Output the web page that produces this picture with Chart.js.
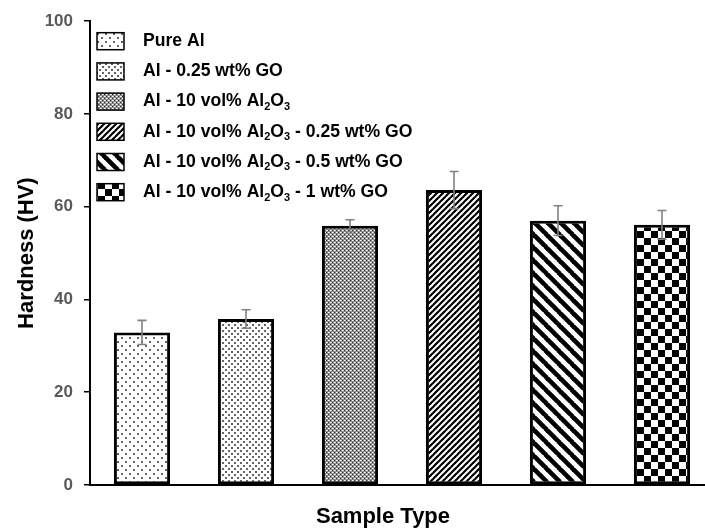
<!DOCTYPE html>
<html>
<head>
<meta charset="utf-8">
<script src="https://cdn.jsdelivr.net/npm/chart.js@4.4.1/dist/chart.umd.min.js"></script>
<style>
html, body { margin: 0; padding: 0; background: #fff; overflow: hidden; }
canvas { display: block; }
</style>
</head>
<body>
<canvas id="chart" width="716" height="530"></canvas>
<script>
// sample names, "_" marks a subscript digit
const sampleNames = [
    'Pure Al',
    'Al - 0.25 wt% GO',
    'Al - 10 vol% Al_2O_3',
    'Al - 10 vol% Al_2O_3 - 0.25 wt% GO',
    'Al - 10 vol% Al_2O_3 - 0.5 wt% GO',
    'Al - 10 vol% Al_2O_3 - 1 wt% GO',
];
const hardness = [32.9, 35.8, 55.9, 63.6, 57.0, 56.1];
const hardnessErr = [2.6, 2.0, 1.3, 4.0, 3.2, 3.1];
const yTicks = [0, 20, 40, 60, 80, 100];

const FONT = 'Arial, "Liberation Sans", sans-serif';
const canvas = document.getElementById('chart');
const ctx = canvas.getContext('2d');

// small tile -> repeating fill pattern
function makepattern(w, h, paint) {
    let tile = document.createElement('canvas');
    tile.width = w;
    tile.height = h;
    let g = tile.getContext('2d');
    g.fillStyle = '#fff';
    g.fillRect(0, 0, w, h);
    paint(g, w, h);
    return ctx.createPattern(tile, 'repeat');
}

function diagonal(g, size, width, up) {
    g.strokeStyle = '#000';
    g.lineWidth = width;
    for (let o = -size; o <= size; o += size) {
        g.beginPath();
        if (up) {
            g.moveTo(o - 1, size + 1);
            g.lineTo(o + size + 1, -1);
        } else {
            g.moveTo(o - 1, -1);
            g.lineTo(o + size + 1, size + 1);
        }
        g.stroke();
    }
}

let fills = [
    // sparse dots
    makepattern(8, 8, function(g) {
        g.fillStyle = '#666';
        g.fillRect(1, 1, 2, 2);
        g.fillRect(5, 5, 2, 2);
    }),
    // denser dots
    makepattern(6, 6, function(g) {
        g.fillStyle = '#666';
        g.fillRect(0, 0, 2, 2);
        g.fillRect(3, 3, 2, 2);
    }),
    // grey lattice
    makepattern(4, 4, function(g) {
        g.fillStyle = '#8c8c8c';
        g.fillRect(0, 0, 4, 4);
        g.fillStyle = '#fff';
        g.fillRect(0, 0, 1, 1);
        g.fillRect(2, 2, 1, 1);
        g.fillStyle = '#d8d8d8';
        g.fillRect(1, 0, 1, 1);
        g.fillRect(3, 2, 1, 1);
        g.fillStyle = '#333';
        g.fillRect(2, 0, 1, 1);
        g.fillRect(0, 2, 1, 1);
    }),
    // dark upward diagonal
    makepattern(6, 6, function(g) { diagonal(g, 6, 2.2, true); }),
    // wide downward diagonal
    makepattern(13, 13, function(g) { diagonal(g, 13, 4.6, false); }),
    // checkerboard
    makepattern(14, 14, function(g) {
        g.fillStyle = '#000';
        g.fillRect(0, 0, 7, 7);
        g.fillRect(7, 7, 7, 7);
    }),
];

// draws text with "_d" parts as subscripts
function drawrichtext(c, text, x, y, size) {
    let parts = text.split(/(_\d)/);
    for (let i = 0; i < parts.length; i++) {
        let p = parts[i];
        if (!p) continue;
        if (p[0] == '_') {
            c.font = 'bold ' + Math.round(size * 0.65) + 'px ' + FONT;
            c.fillText(p[1], x, y + size * 0.3);
            x += c.measureText(p[1]).width;
        } else {
            c.font = 'bold ' + size + 'px ' + FONT;
            c.fillText(p, x, y);
            x += c.measureText(p).width;
        }
    }
}

// error bars on top of the bars
const errorbars = {
    id: 'errorbars',
    afterDatasetsDraw(chart) {
        let c = chart.ctx;
        let meta = chart.getDatasetMeta(0);
        let yscale = chart.scales.y;
        c.save();
        c.strokeStyle = '#808080';
        c.lineWidth = 1.6;
        for (let i = 0; i < meta.data.length; i++) {
            let x = meta.data[i].x;
            let ylo = yscale.getPixelForValue(hardness[i] - hardnessErr[i]);
            let yhi = yscale.getPixelForValue(hardness[i] + hardnessErr[i]);
            c.beginPath();
            c.moveTo(x, ylo);
            c.lineTo(x, yhi);
            c.moveTo(x - 4.5, yhi);
            c.lineTo(x + 4.5, yhi);
            c.moveTo(x - 4.5, ylo);
            c.lineTo(x + 4.5, ylo);
            c.stroke();
        }
        c.restore();
    }
};

// legend box inside the plot, plus the x axis title
const legendandtitle = {
    id: 'legendandtitle',
    afterDraw(chart) {
        let c = chart.ctx;
        let area = chart.chartArea;
        c.save();
        c.textBaseline = 'middle';
        c.fillStyle = '#000';
        for (let i = 0; i < sampleNames.length; i++) {
            let cy = area.top + 20 + i * 30.2;
            c.fillStyle = fills[i];
            c.fillRect(area.left + 7, cy - 8.5, 27, 17);
            c.strokeStyle = '#000';
            c.lineWidth = 1.5;
            c.strokeRect(area.left + 7, cy - 8.5, 27, 17);
            c.fillStyle = '#000';
            drawrichtext(c, sampleNames[i], area.left + 53, cy, 17.6);
        }
        c.font = 'bold 22px ' + FONT;
        c.textAlign = 'center';
        c.textBaseline = 'alphabetic';
        c.fillText('Sample Type', 383, 523);
        c.restore();
    }
};

new Chart(canvas, {
    type: 'bar',
    data: {
        labels: sampleNames,
        datasets: [{
            data: hardness,
            backgroundColor: fills,
            borderColor: '#000',
            borderWidth: 3,
            borderSkipped: false,
            barPercentage: 0.54,
            categoryPercentage: 1.0,
        }]
    },
    options: {
        responsive: false,
        animation: false,
        layout: { padding: { left: 0, right: 2, top: 20, bottom: 0 } },
        plugins: {
            legend: { display: false },
            tooltip: { enabled: false },
        },
        scales: {
            x: {
                type: 'category',
                ticks: { display: false },
                grid: { display: false },
                border: { display: true, color: '#000', width: 2 },
                afterFit: function(scale) { scale.height = 45; },
            },
            y: {
                min: 0,
                max: 100,
                afterBuildTicks: function(scale) {
                    scale.ticks = yTicks.map(function(v) { return {value: v}; });
                },
                ticks: {
                    color: '#595959',
                    padding: 11,
                    font: { family: FONT, size: 17, weight: 'bold' },
                },
                grid: {
                    display: true,
                    drawOnChartArea: false,
                    drawTicks: true,
                    tickLength: 6,
                    color: '#000',
                    lineWidth: 1.5,
                },
                border: { display: true, color: '#000', width: 2 },
                title: {
                    display: true,
                    text: 'Hardness (HV)',
                    color: '#000',
                    padding: { top: 14, bottom: 0 },
                    font: { family: FONT, size: 22, weight: 'bold' },
                },
                afterFit: function(scale) { scale.width = 90; },
            }
        }
    },
    plugins: [errorbars, legendandtitle]
});
</script>
</body>
</html>
